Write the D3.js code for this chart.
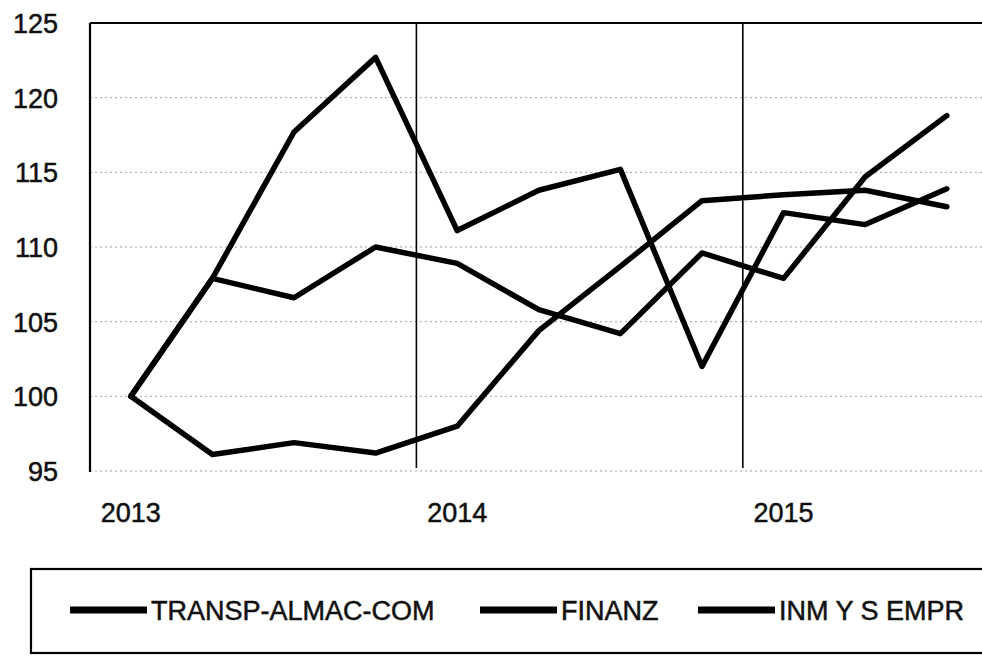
<!DOCTYPE html>
<html>
<head>
<meta charset="utf-8">
<script src="https://cdn.jsdelivr.net/npm/d3@7"></script>
<style>
  body { margin: 0; background: #fff; }
  svg text { font-family: "Liberation Sans", Arial, sans-serif; fill: #111; stroke: #111; stroke-width: 0.5px; }
</style>
</head>
<body>
<div id="chart"></div>
<script>
// quarters 2013-I .. 2015-IV (last one still empty)
var quarters = ["2013-I", "2013-II", "2013-III", "2013-IV",
                "2014-I", "2014-II", "2014-III", "2014-IV",
                "2015-I", "2015-II", "2015-III", "2015-IV"];
var years = ["2013", "2014", "2015"];
var yTicks = [95, 100, 105, 110, 115, 120, 125];

var transp = [100, 107.9, 117.7, 122.7, 111.1, 113.8, 115.2, 102.0, 112.3, 111.5, 113.9];
var finanz = [100, 107.9, 106.6, 110.0, 108.9, 105.8, 104.2, 109.6, 107.9, 114.7, 118.8];
var inm    = [100, 96.1, 96.9, 96.2, 98.0, 104.4, 108.7, 113.1, 113.5, 113.8, 112.7];

var seriesNames = ["TRANSP-ALMAC-COM", "FINANZ", "INM Y S EMPR"];

var W = 982, H = 656;
var plotLeft = 90, plotTop = 23, plotBottom = 471;
var step = 81.6;

var svg = d3.select('#chart').append('svg')
    .attr('width', W)
    .attr('height', H);

var x = d3.scaleBand()
    .domain(quarters)
    .range([plotLeft, plotLeft + step * quarters.length])
    .padding(0);

var y = d3.scaleLinear()
    .domain([95, 125])
    .range([plotBottom, plotTop]);

// dotted gridlines
svg.append("g").selectAll("line")
    .data(yTicks.slice(0, -1))
    .join("line")
    .attr("x1", plotLeft)
    .attr("x2", W)
    .attr("y1", d => y(d))
    .attr("y2", d => y(d))
    .attr("stroke", "#a0a0a0")
    .attr("stroke-width", 1)
    .attr("stroke-dasharray", "2,3");

// y tick labels
svg.append("g").selectAll("text")
    .data(yTicks)
    .join("text")
    .attr("x", 58)
    .attr("y", d => y(d) + 10)
    .attr("text-anchor", "end")
    .style("font-size", "27px")
    .text(d => d);

// plot frame: left and top
svg.append("line")
    .attr("x1", plotLeft).attr("x2", plotLeft)
    .attr("y1", plotTop).attr("y2", plotBottom + 1)
    .attr("stroke", "#000").attr("stroke-width", 2.2);
svg.append("line")
    .attr("x1", plotLeft).attr("x2", W)
    .attr("y1", plotTop).attr("y2", plotTop)
    .attr("stroke", "#000").attr("stroke-width", 2.2);

// year separators
svg.append("g").selectAll("line")
    .data(years.slice(1))
    .join("line")
    .attr("x1", d => x(d + "-I"))
    .attr("x2", d => x(d + "-I"))
    .attr("y1", plotTop)
    .attr("y2", plotBottom - 3)
    .attr("stroke", "#000")
    .attr("stroke-width", 1.6);

// year labels under first quarter
svg.append("g").selectAll("text")
    .data(years)
    .join("text")
    .attr("x", d => x(d + "-I") + x.bandwidth() / 2)
    .attr("y", 522)
    .attr("text-anchor", "middle")
    .style("font-size", "27px")
    .text(d => d);

var cx = (d, i) => x(quarters[i]) + x.bandwidth() / 2;

var line = d3.line().x(cx).y(d => y(d));

[inm, finanz, transp].forEach(function(s) {
    svg.append("path")
        .datum(s)
        .attr("d", line)
        .attr("fill", "none")
        .attr("stroke", "#000")
        .attr("stroke-width", 5.5)
        .attr("stroke-linejoin", "round")
        .attr("stroke-linecap", "round");
});

// legend box
svg.append("rect")
    .attr("x", 31)
    .attr("y", 569)
    .attr("width", 1000)
    .attr("height", 84)
    .attr("fill", "none")
    .attr("stroke", "#000")
    .attr("stroke-width", 2.2);

var legendX = [70, 480, 698];
var legend = svg.append("g").selectAll("g")
    .data(seriesNames)
    .join("g")
    .attr("transform", (d, i) => "translate(" + legendX[i] + ",610)");

legend.append("line")
    .attr("x1", 0).attr("x2", 77)
    .attr("y1", 0).attr("y2", 0)
    .attr("stroke", "#000")
    .attr("stroke-width", 7);

legend.append("text")
    .attr("x", 81)
    .attr("y", 10)
    .style("font-size", "27px")
    .text(d => d);
</script>
</body>
</html>
